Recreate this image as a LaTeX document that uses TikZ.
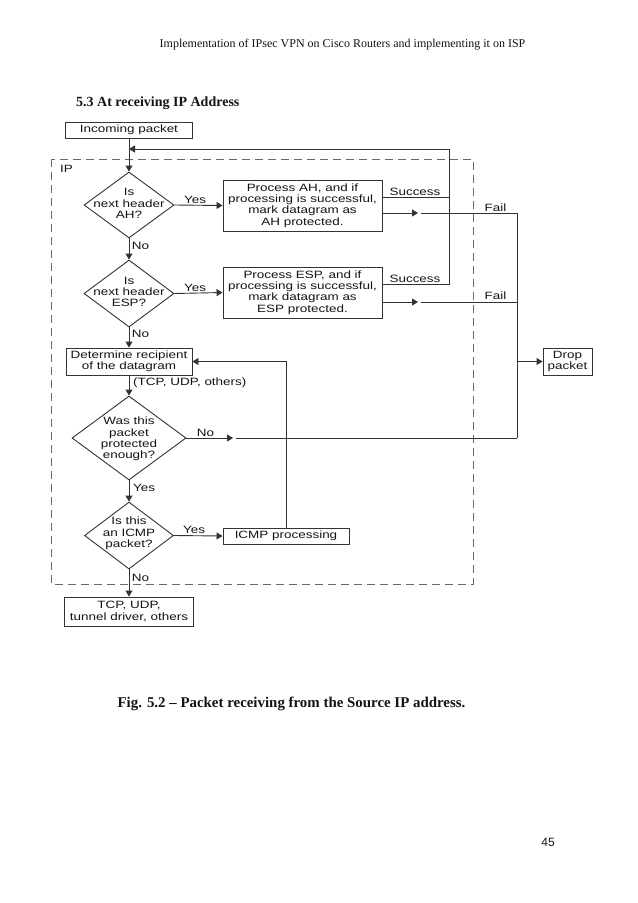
\documentclass[tikz,border=0pt]{standalone}
\usepackage{fontspec}
\setmainfont{Liberation Serif}
\newfontfamily\diagfont[FakeStretch=1.27]{Liberation Sans}
\newfontfamily\pagesans{Liberation Sans}
\usetikzlibrary{arrows.meta,shapes.geometric}
\definecolor{ln}{HTML}{333333}
\definecolor{dgray}{HTML}{6A6A6A}
\definecolor{tx}{HTML}{141414}
\begin{document}
\begin{tikzpicture}[x=1bp,y=-1bp,
  every node/.style={text=tx},
  dfont/.style={font=\diagfont\fontsize{10.6bp}{11.3bp}\selectfont},
  box/.style={draw=ln, line width=0.9bp, rectangle, inner sep=0, align=center, dfont},
  dia/.style={draw=ln, line width=0.9bp, diamond, inner sep=0},
  dtext/.style={align=center, inner sep=0, dfont},
  lbl/.style={inner sep=0, dfont},
  con/.style={draw=ln, line width=0.9bp},
  arr/.style={con, -{Triangle[length=6bp,width=7bp]}},
]
\useasboundingbox[fill=white] (0,0) rectangle (638,903);

% page texts
\node[font=\fontsize{12bp}{14bp}\selectfont] (hdr) at (342.5,45) {Implementation of IPsec VPN on Cisco Routers and implementing it on ISP};
\node[font=\bfseries\fontsize{14bp}{16bp}\selectfont, anchor=west, inner sep=0] (sec) at (76,103) {5.3 At receiving IP Address};
\node[font=\bfseries\fontsize{14.9bp}{17bp}\selectfont] (cap) at (291.5,704) {Fig. 5.2 – Packet receiving from the Source IP address.};
\node[font=\pagesans\fontsize{12bp}{14bp}\selectfont] (pg) at (548,842) {45};

% dashed IP box
\draw[draw=dgray, line width=0.9bp, dash pattern=on 8bp off 5bp] (51,159) rectangle (473,584);
\node[lbl] (iplbl) at (66.5,169) {IP};

% boxes
\node[box, minimum width=127bp, minimum height=16bp] (inc) at (129,130) {Incoming packet};
\node[box, minimum width=159bp, minimum height=51bp] (ah) at (302.5,205.5) {Process AH, and if\\processing is successful,\\mark datagram as\\AH protected.};
\node[box, minimum width=159bp, minimum height=51bp] (esp) at (302.5,292.5) {Process ESP, and if\\processing is successful,\\mark datagram as\\ESP protected.};
\node[box, minimum width=126bp, minimum height=27bp] (det) at (129,361.5) {Determine recipient\\of the datagram};
\node[box, minimum width=126bp, minimum height=16bp] (icmp) at (286,536) {ICMP processing};
\node[box, minimum width=129bp, minimum height=29bp] (fin) at (129,611.5) {TCP, UDP,\\tunnel driver, others};
\node[box, minimum width=49bp, minimum height=27bp] (drop) at (567.5,361.5) {Drop\\packet};

% diamonds
\node[dia, minimum width=90bp, minimum height=66bp] (d1) at (129,205) {};
\node[dtext] (t1) at (129,203.5) {Is\\next header\\AH?};
\node[dia, minimum width=90bp, minimum height=67bp] (d2) at (129,293.5) {};
\node[dtext] (t2) at (129,292) {Is\\next header\\ESP?};
\node[dia, minimum width=114bp, minimum height=84bp] (d3) at (129,438) {};
\node[dtext] (t3) at (129,439) {Was this\\packet\\protected\\enough?};
\node[dia, minimum width=89bp, minimum height=67bp] (d4) at (129,535.5) {};
\node[dtext] (t4) at (129,533.5) {Is this\\an ICMP\\packet?};

% helper coordinates
\coordinate (fbtop) at (449,149);
\coordinate (s1) at (449,197);
\coordinate (s2) at (449,284);
\coordinate (f1) at (517,213);
\coordinate (f2) at (517,302);
\coordinate (f3) at (517,438);
\coordinate (m1) at (418,213);
\coordinate (m2) at (418,302);
\coordinate (m3) at (233,438);

% main vertical flow
\draw[arr] (inc.south) -- (d1.north);
\draw[arr] (d1.south) -- (d2.north);
\draw[arr] (d2.south) -- (det.north);
\draw[arr] (det.south) -- (d3.north);
\draw[arr] (d3.south) -- (d4.north);
\draw[arr] (d4.south) -- (fin.north);

% yes branches
\draw[arr] (d1.east) -- (ah.west);
\draw[arr] (d2.east) -- (esp.west);
\draw[arr] (d4.east) -- (icmp.west);

% success feedback
\draw[con] (ah.east |- s1) -- (s1);
\draw[arr] (esp.east |- s2) -- (s2) -- (fbtop) -- (inc.south |- fbtop);

% fail paths
\draw[arr] (ah.east |- m1) -- (m1);
\draw[con] ([xshift=3bp]m1) -- (f1) -- (f3);
\draw[arr] (esp.east |- m2) -- (m2);
\draw[con] ([xshift=3bp]m2) -- (f2);
\draw[arr] (d3.east) -- (m3);
\draw[con] ([xshift=3bp]m3) -- (f3);
\draw[arr] (f1 |- drop.west) -- (drop.west);

% ICMP feedback
\draw[arr] (icmp.north) -- (icmp.north |- det.east) -- (det.east);

% labels
\node[lbl] (y1) at (195,199.5) {Yes};
\node[lbl] (y2) at (195,287.5) {Yes};
\node[lbl] (y4) at (194,530) {Yes};
\node[lbl] (y3) at (144,488) {Yes};
\node[lbl] (n1) at (140.5,246) {No};
\node[lbl] (n2) at (140.5,334) {No};
\node[lbl] (n4) at (140.5,577.5) {No};
\node[lbl] (n3) at (205.5,432.5) {No};
\node[lbl, anchor=west] (tcp) at (133,383) {(TCP, UDP, others)};
\node[lbl] (sc1) at (415,191.5) {Success};
\node[lbl] (sc2) at (415,279) {Success};
\node[lbl] (fl1) at (495.5,208) {Fail};
\node[lbl] (fl2) at (495.5,296) {Fail};
\end{tikzpicture}
\end{document}
